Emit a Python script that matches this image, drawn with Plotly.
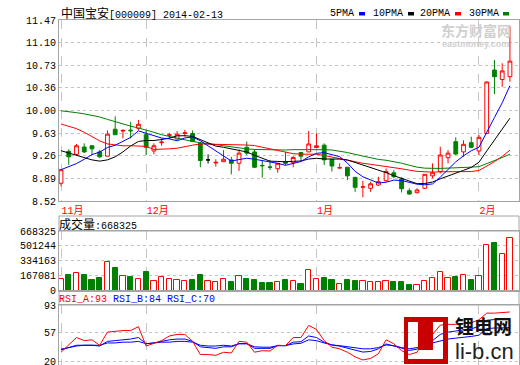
import plotly.graph_objects as go

# ---------------- data ----------------
month_ticks = [0, 11, 33, 54]
month_labels = ["11月", "12月", "1月", "2月"]

open_ = [8.81, 9.33, 9.28, 9.40, 9.42, 9.32, 9.25, 9.69, 9.66, 9.675,
         9.705, 9.60, 9.335, 9.47, 9.59, 9.53, 9.62, 9.62, 9.46, 9.19,
         9.14, 9.16, 9.19, 9.135, 9.395, 9.32, 9.10, 9.075, 9.046, 9.16,
         9.144, 9.31, 9.32, 9.39, 9.43, 9.20, 9.058, 9.07, 8.906, 8.745,
         8.727, 8.78, 8.85, 8.98, 8.88, 8.688, 8.655, 8.727, 8.93, 9.00,
         9.226, 9.487, 9.32, 9.47, 9.335, 9.62, 10.655, 10.50, 10.546]
high = [9.04, 9.36, 9.45, 9.46, 9.43, 9.35, 9.67, 9.90, 9.69, 9.81,
        9.84, 9.67, 9.46, 9.54, 9.63, 9.66, 9.68, 9.67, 9.48, 9.28,
        9.20, 9.35, 9.24, 9.36, 9.49, 9.36, 9.19, 9.19, 9.14, 9.32,
        9.25, 9.31, 9.66, 9.62, 9.46, 9.20, 9.135, 9.07, 8.91, 8.85,
        8.835, 8.916, 9.05, 9.025, 8.91, 8.727, 8.727, 8.96, 9.134, 9.405,
        9.35, 9.558, 9.51, 9.568, 9.596, 10.47, 10.818, 10.764, 11.37]
low = [8.76, 9.11, 9.26, 9.30, 9.27, 9.22, 9.25, 9.60, 9.54, 9.54,
       9.67, 9.27, 9.28, 9.42, 9.53, 9.52, 9.57, 9.48, 9.07, 9.13,
       9.08, 9.16, 8.955, 9.01, 9.27, 9.06, 8.90, 9.025, 8.98, 9.107,
       9.07, 9.16, 9.32, 9.39, 9.107, 9.00, 9.05, 8.86, 8.67, 8.58,
       8.67, 8.764, 8.835, 8.89, 8.66, 8.62, 8.645, 8.72, 8.89, 8.97,
       9.134, 9.27, 9.24, 9.38, 9.27, 9.61, 10.264, 10.38, 10.464]
close = [9.03, 9.24, 9.42, 9.32, 9.37, 9.24, 9.61, 9.60, 9.67, 9.665,
         9.77, 9.395, 9.42, 9.48, 9.60, 9.61, 9.63, 9.49, 9.18, 9.19,
         9.15, 9.20, 9.135, 9.30, 9.30, 9.07, 9.095, 9.07, 9.135, 9.135,
         9.23, 9.25, 9.45, 9.42, 9.19, 9.09, 9.063, 8.93, 8.743, 8.75,
         8.80, 8.835, 9.00, 8.916, 8.72, 8.634, 8.70, 8.955, 8.98, 9.27,
         9.30, 9.286, 9.444, 9.395, 9.558, 10.46, 10.546, 10.64, 10.80]

ma5 = [9.03, 9.08, 9.13, 9.20, 9.276, 9.318, 9.392, 9.428, 9.498, 9.557,
       9.663, 9.620, 9.584, 9.546, 9.533, 9.501, 9.548, 9.562, 9.502, 9.420,
       9.328, 9.242, 9.171, 9.195, 9.217, 9.201, 9.180, 9.167, 9.134, 9.101,
       9.133, 9.164, 9.240, 9.297, 9.308, 9.280, 9.243, 9.139, 9.003, 8.915,
       8.857, 8.812, 8.826, 8.860, 8.854, 8.821, 8.794, 8.785, 8.798, 8.908,
       9.041, 9.158, 9.256, 9.339, 9.397, 9.629, 9.881, 10.120, 10.400]
ma10 = [9.34, 9.30, 9.26, 9.22, 9.19, 9.17, 9.19, 9.24, 9.32, 9.417,
        9.490, 9.506, 9.506, 9.522, 9.545, 9.582, 9.584, 9.573, 9.524, 9.477,
        9.415, 9.395, 9.367, 9.349, 9.319, 9.265, 9.211, 9.169, 9.165, 9.159,
        9.167, 9.172, 9.204, 9.216, 9.205, 9.207, 9.203, 9.189, 9.150, 9.112,
        9.069, 9.027, 8.982, 8.932, 8.885, 8.839, 8.803, 8.805, 8.829, 8.881,
        8.931, 8.976, 9.020, 9.068, 9.152, 9.335, 9.519, 9.688, 9.870]
ma20 = [9.775, 9.74, 9.70, 9.64, 9.57, 9.50, 9.45, 9.43, 9.42, 9.42,
        9.42, 9.41, 9.36, 9.36, 9.37, 9.38, 9.41, 9.43, 9.45, 9.447,
        9.453, 9.451, 9.436, 9.435, 9.432, 9.423, 9.398, 9.371, 9.344, 9.318,
        9.291, 9.284, 9.285, 9.282, 9.262, 9.236, 9.207, 9.179, 9.157, 9.135,
        9.118, 9.100, 9.093, 9.074, 9.045, 9.023, 9.003, 8.997, 8.990, 8.996,
        9.000, 9.002, 9.001, 9.000, 9.018, 9.087, 9.161, 9.247, 9.349]
ma30 = [9.99, 9.98, 9.96, 9.94, 9.92, 9.89, 9.85, 9.81, 9.77, 9.74,
        9.71, 9.68, 9.64, 9.60, 9.57, 9.54, 9.52, 9.49, 9.47, 9.46,
        9.44, 9.42, 9.40, 9.385, 9.37, 9.36, 9.355, 9.35, 9.35, 9.351,
        9.357, 9.358, 9.359, 9.362, 9.356, 9.351, 9.333, 9.310, 9.280, 9.249,
        9.217, 9.198, 9.184, 9.165, 9.136, 9.103, 9.072, 9.055, 9.048, 9.051,
        9.056, 9.058, 9.069, 9.072, 9.080, 9.127, 9.175, 9.228, 9.283]

volume = [126000, 174000, 193000, 174000, 118000, 144000, 317000, 256000, 159000, 152000,
          126000, 208000, 103000, 148000, 126000, 115000, 103000, 118000, 174000, 103000,
          92000, 126000, 95000, 159000, 129000, 118000, 84000, 84000, 92000, 118000,
          103000, 73000, 227000, 126000, 144000, 118000, 70000, 118000, 107000, 103000,
          92000, 92000, 103000, 95000, 95000, 62000, 58000, 103000, 137000, 204000,
          137000, 152000, 171000, 118000, 159000, 508000, 534000, 407000, 586000]

rsi_a = [32, 42, 51, 47, 48, 41, 58, 59, 60, 60,
         65, 40, 43, 47, 53, 55, 55, 46, 29, 29,
         28, 32, 31, 46, 45, 32, 34, 33.5, 41, 40.5,
         51, 51, 66.6, 61.5, 47, 38.5, 36.4, 32, 26, 22,
         24, 30, 48, 43, 34, 29, 32, 50, 55, 67,
         68, 68, 69, 70, 74, 82.5, 82.5, 83.4, 84]
rsi_b = [35, 38, 41, 41, 41, 40, 46, 47, 48, 49,
         51, 43, 44, 46, 48, 49, 49, 46, 39, 38,
         37, 39, 39, 43, 43, 37, 37, 37, 40.5, 40.5,
         45, 45.6, 53, 51, 45, 41.4, 39.8, 37.3, 34.3, 32.2,
         33, 36.4, 42.7, 40.5, 37.3, 34.3, 36, 43, 47, 55,
         58, 59.4, 60.7, 62.4, 65, 73.3, 74.2, 74.2, 74.2]
rsi_c = [36, 38, 40, 41, 41, 41, 44, 44, 45, 45,
         46, 43, 44, 45, 45, 46, 46, 45, 41, 40,
         40, 41, 40, 43, 43, 39, 38.5, 38.5, 40.5, 40.5,
         42.7, 43.6, 48, 47, 44, 41.4, 40.5, 39.3, 37.3, 36.4,
         36.4, 38, 41.4, 40.5, 38, 36.4, 38, 42, 44, 47,
         49, 50.2, 51, 52.4, 54, 62.4, 63.3, 63.7, 63.7]

price_ticks = ["8.52", "8.89", "9.26", "9.63", "10.00", "10.36", "10.73", "11.10", "11.47"]
vol_ticks = ["0", "167081", "334163", "501244", "668325"]
rsi_ticks = ["20", "57", "93"]

# ---------------- figure ----------------
W, H = 520, 365
L, R = 59, 519
def px(x):
    return (x - L) / (R - L)
def py(y):
    return 1 - y / H

RED, GREEN, BLUE = "#ff0000", "#008000", "#0000ff"
GRID = "#c4c4c4"
BORDER = "#a4a4a4"
MONO = "Liberation Mono, DejaVu Sans Mono, Noto Sans CJK SC, monospace"

xs = list(range(len(close)))
groups = [
    ([i for i in xs if close[i] > open_[i]], RED, "#ffffff"),
    ([i for i in xs if close[i] < open_[i]], GREEN, GREEN),
    ([i for i in xs if close[i] == open_[i]], "#000000", "#000000"),
]

fig = go.Figure()
for idx, lc, fc in groups:
    if not idx:
        continue
    style = dict(line=dict(color=lc, width=1), fillcolor=fc)
    fig.add_trace(go.Candlestick(
        x=idx,
        open=[open_[i] for i in idx], high=[high[i] for i in idx],
        low=[low[i] for i in idx], close=[close[i] for i in idx],
        increasing=style, decreasing=style, whiskerwidth=0,
        xaxis="x", yaxis="y", showlegend=False))

for ma, col in [(ma30, GREEN), (ma20, RED), (ma10, "#000000"), (ma5, BLUE)]:
    fig.add_trace(go.Scatter(x=xs, y=ma, mode="lines", line=dict(color=col, width=1),
                             xaxis="x", yaxis="y", showlegend=False))

vol_up = [close[i] >= open_[i] for i in xs]
fig.add_trace(go.Bar(
    x=xs, y=volume, width=0.68,
    marker=dict(color=["#ffffff" if u else GREEN for u in vol_up],
                line=dict(color=[RED if u else GREEN for u in vol_up], width=1)),
    xaxis="x2", yaxis="y2", showlegend=False))

for r, col in [(rsi_c, BLUE), (rsi_b, BLUE), (rsi_a, RED)]:
    fig.add_trace(go.Scatter(x=xs, y=r, mode="lines", line=dict(color=col, width=1),
                             xaxis="x3", yaxis="y3", showlegend=False))

xcommon = dict(showgrid=True, gridcolor=GRID, griddash="dash", gridwidth=1,
               showline=True, mirror=True, linecolor=BORDER, linewidth=1,
               zeroline=False, ticks="", tickvals=month_ticks, automargin=False)
ycommon = dict(showgrid=True, gridcolor=GRID, griddash="dot", gridwidth=1,
               showline=True, mirror=True, linecolor=BORDER, linewidth=1,
               zeroline=False, ticks="", automargin=False, ticklabeloverflow="allow",
               tickfont=dict(family=MONO, size=10, color="#000000"))

pstep = (11.47 - 8.52) / 8
vstep = 668325 / 4

fig.update_layout(
    width=W, height=H,
    margin=dict(l=L, r=W - R, t=0, b=0, pad=0, autoexpand=False),
    paper_bgcolor="#ffffff", plot_bgcolor="#ffffff",
    showlegend=False, hovermode=False, bargap=0,
    xaxis=dict(xcommon, domain=[0, 1], range=[-0.26, 59.17], anchor="y",
               ticktext=month_labels, ticklabelposition="outside right",
               tickfont=dict(family=MONO, size=10, color=RED),
               rangeslider=dict(visible=False)),
    xaxis2=dict(xcommon, domain=[0, 1], matches="x", anchor="y2", showticklabels=False),
    xaxis3=dict(xcommon, domain=[0, 1], matches="x", anchor="y3", showticklabels=False),
    yaxis=dict(ycommon, domain=[py(201), py(20)], range=[8.52, 11.47],
               tickvals=[8.52 + k * pstep for k in range(9)], ticktext=price_ticks),
    yaxis2=dict(ycommon, domain=[py(290.5), py(231)], range=[0, 668325],
                tickvals=[k * vstep for k in range(5)], ticktext=vol_ticks),
    yaxis3=dict(ycommon, domain=[0, py(305)], range=[15.5, 93],
                tickvals=[20, 57, 93], ticktext=rsi_ticks),
)

shapes = []
# caption strips above the volume and RSI panels
shapes.append(dict(type="rect", xref="paper", yref="paper", x0=0, x1=1,
                   y0=py(231), y1=py(216), line=dict(color=BORDER, width=1)))
shapes.append(dict(type="rect", xref="paper", yref="paper", x0=0, x1=1,
                   y0=py(305), y1=py(290.5), line=dict(color=BORDER, width=1)))
# legend swatches
for x0, col in [(359, BLUE), (408, "#000000"), (455, RED), (503, GREEN)]:
    shapes.append(dict(type="rect", xref="paper", yref="paper", x0=px(x0), x1=px(x0 + 6),
                       y0=py(15.5), y1=py(12), fillcolor=col, line=dict(width=0)))
# li-b.cn logo frame (white parts left transparent)
LOGO = "#c80000"
for x0, x1, y0, y1 in [(404, 448, 317, 322), (404, 448, 359, 364), (404, 408, 322, 359),
                       (443, 448, 322, 359), (418, 433, 322, 350)]:
    shapes.append(dict(type="rect", xref="paper", yref="paper", layer="above",
                       x0=px(x0), x1=px(x1), y0=py(y1), y1=py(y0),
                       fillcolor=LOGO, line=dict(width=0)))
fig.update_layout(shapes=shapes)

ann = []
def text(x, y, s, size=10, color="#000000", family=MONO, anchor="left"):
    ann.append(dict(xref="paper", yref="paper", x=px(x), y=py(y), text=s, showarrow=False,
                    xanchor=anchor, yanchor="middle", borderpad=0,
                    font=dict(family=family, size=size, color=color)))

text(60, 14, '<span style="font-size:12px">中国宝安</span>[000009] 2014-02-13')
text(329, 14, "5PMA")
text(372, 14, "10PMA")
text(419, 14, "20PMA")
text(468, 14, "30PMA")
text(440, 30, "<b>东方财富网</b>", size=14, color="#cfcfcf", family="Noto Sans CJK SC")
text(441, 44, "<b>eastmoney.com</b>", size=9, color="#cfcfcf", family="Liberation Sans")
text(58, 225, '<span style="font-size:12px">成交量</span>:668325')
text(58, 299, '<span style="color:#ff0000">RSI_A:93</span> '
              '<span style="color:#0000ff">RSI_B:84 RSI_C:70</span>')
text(454, 325, "<b>锂电网</b>", size=19, color="#111111", family="Noto Sans CJK SC")
text(454, 351, "li-b.cn", size=22, color="#222222", family="Liberation Sans, Arial")
fig.update_layout(annotations=ann)

fig.write_html("out.html", config={"displayModeBar": False},
               post_script="document.body.style.margin='0';document.body.style.padding='0';")
